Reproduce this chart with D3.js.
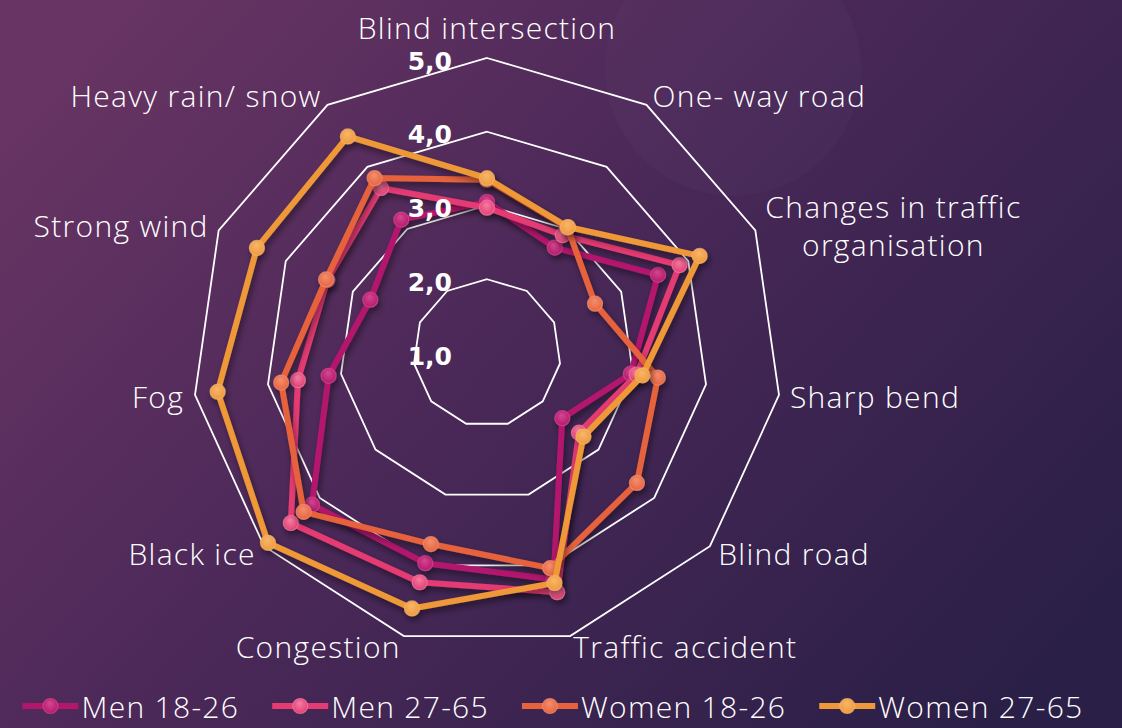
<!DOCTYPE html>
<html>
<head>
<meta charset="utf-8">
<script src="https://cdn.jsdelivr.net/npm/d3@7"></script>
<style>
  html, body { margin: 0; padding: 0; background: #2c2048; }
  svg { display: block; }
  text { font-family: "Open Sans", "Lato", sans-serif; fill: #fff; }
</style>
</head>
<body>
<svg id="chart"></svg>
<script>
// chart data
const categories = ["Blind intersection", "One- way road", "Changes in traffic\norganisation", "Sharp bend",
  "Blind road", "Traffic accident", "Congestion", "Black ice", "Fog", "Strong wind", "Heavy rain/ snow"]

const men1826   = [3.05, 2.70, 3.55, 2.97, 2.35, 4.20, 3.97, 4.14, 3.17, 2.74, 3.15]
const men2765   = [2.97, 2.90, 3.87, 3.05, 2.65, 4.38, 4.24, 4.52, 3.59, 3.38, 3.66]
const women1826 = [3.35, 3.02, 2.61, 3.34, 3.69, 4.04, 3.70, 4.29, 3.82, 3.40, 3.82]
const women2765 = [3.37, 3.03, 4.17, 3.13, 2.73, 4.25, 4.61, 4.93, 4.69, 4.43, 4.49]

const seriesNames = ["Men 18-26", "Men 27-65", "Women 18-26", "Women 27-65"]
const ringTicks = [1, 2, 3, 4, 5]

let width = 1122
let height = 728
let cx = 487
let cy = 353
let radius = 295

let colors = ["#b3176c", "#e33b72", "#e6623c", "#ef9839"]
let lightColors = ["#d6488f", "#f47ea3", "#f39070", "#f7b76d"]

let svg = d3.select('#chart')
            .attr('width', width)
            .attr('height', height)

let defs = svg.append('defs')

let bg = defs.append('linearGradient')
             .attr('id', 'bg')
             .attr('x1', 0).attr('y1', 0.2)
             .attr('x2', 1).attr('y2', 0.8)
bg.append('stop').attr('offset', 0).attr('stop-color', '#673463')
bg.append('stop').attr('offset', 0.45).attr('stop-color', '#4a2858')
bg.append('stop').attr('offset', 1).attr('stop-color', '#2a1f47')

let shadow = defs.append('filter')
                 .attr('id', 'shadow')
                 .attr('x', '-20%').attr('y', '-20%')
                 .attr('width', '140%').attr('height', '140%')
shadow.append('feDropShadow')
      .attr('dx', 2).attr('dy', 4)
      .attr('stdDeviation', 3)
      .attr('flood-color', '#000')
      .attr('flood-opacity', 0.45)

colors.forEach((c, i) => {
    let g = defs.append('radialGradient')
                .attr('id', 'mk' + i)
                .attr('cx', 0.5).attr('cy', 0.45)
                .attr('fx', 0.45).attr('fy', 0.3)
                .attr('r', 0.6)
    g.append('stop').attr('offset', 0).attr('stop-color', lightColors[i])
    g.append('stop').attr('offset', 1).attr('stop-color', c)
})

svg.append('rect')
   .attr('width', width)
   .attr('height', height)
   .attr('fill', 'url(#bg)')

// faint circle top right
svg.append('circle')
   .attr('cx', 733).attr('cy', 68).attr('r', 128)
   .attr('fill', '#ffffff')
   .attr('opacity', 0.018)

let n = categories.length
let step = 2 * Math.PI / n

let rScale = d3.scaleLinear()
               .domain([1, 5])
               .range([0, radius])

let commaFormat = d3.formatLocale({decimal: ",", thousands: ".", grouping: [3], currency: ["", ""]}).format(".1f")

let chart = svg.append('g')
               .attr('transform', 'translate(' + cx + ',' + cy + ')')

// grid rings
let ringLine = d3.lineRadial()
                 .angle((d, i) => i * step)
                 .radius(d => rScale(d))
                 .curve(d3.curveLinearClosed)

chart.selectAll('.ring')
     .data(ringTicks.filter(t => t > 1))
     .enter()
     .append('path')
     .attr('class', 'ring')
     .attr('d', t => ringLine(categories.map(() => t)))
     .attr('fill', 'none')
     .attr('stroke', '#ffffff')
     .attr('stroke-width', 1.8)

// series
let allSeries = [men1826, men2765, women1826, women2765]

let seriesLine = d3.lineRadial()
                   .angle((d, i) => i * step)
                   .radius(d => rScale(d))
                   .curve(d3.curveLinearClosed)

allSeries.forEach((vals, si) => {
    let g = chart.append('g')
                 .attr('filter', 'url(#shadow)')
    g.append('path')
     .attr('d', seriesLine(vals))
     .attr('fill', 'none')
     .attr('stroke', colors[si])
     .attr('stroke-width', 6)
     .attr('stroke-linejoin', 'round')
    g.selectAll('circle')
     .data(vals)
     .enter()
     .append('circle')
     .attr('cx', (d, i) => rScale(d) * Math.sin(i * step))
     .attr('cy', (d, i) => -rScale(d) * Math.cos(i * step))
     .attr('r', 7.5)
     .attr('fill', 'url(#mk' + si + ')')
     .attr('stroke', lightColors[si])
     .attr('stroke-opacity', 0.7)
     .attr('stroke-width', 1.2)
})

// ring value labels
chart.selectAll('.ringLabel')
     .data(ringTicks)
     .enter()
     .append('text')
     .attr('class', 'ringLabel')
     .attr('x', -35)
     .attr('y', t => -rScale(t) + 3)
     .attr('text-anchor', 'end')
     .attr('dominant-baseline', 'central')
     .style('font-family', '"DejaVu Sans", sans-serif')
     .style('font-weight', 'bold')
     .style('font-size', '25px')
     .text(t => commaFormat(t))

// category labels
let labelGap = 11
let lineH = 38
categories.forEach((cat, i) => {
    let a = i * step
    let s = Math.sin(a)
    let c = Math.cos(a)
    let vx = (radius + labelGap) * s
    let vy = -(radius + labelGap) * c
    let lines = cat.split('\n')
    let anchor = s > 0.1 ? 'start' : (s < -0.1 ? 'end' : 'middle')
    let yc = vy
    if (anchor === 'middle') yc = vy - 20
    let t = chart.append('text')
                 .attr('text-anchor', 'middle')
                 .style('font-size', '30px')
                 .style('font-weight', 300)
                 .style('letter-spacing', '1.3px')
    let top = yc - (lines.length - 1) * lineH / 2
    lines.forEach((ln, li) => {
        t.append('tspan')
         .attr('x', 0)
         .attr('y', top + li * lineH)
         .attr('dominant-baseline', 'central')
         .text(ln)
    })
    let w = t.node().getBBox().width
    let xc = anchor === 'start' ? vx + w / 2 : (anchor === 'end' ? vx - w / 2 : vx)
    t.selectAll('tspan').attr('x', xc)
})

// legend
let legend = svg.append('g')
let legY = 706
let x = 0
seriesNames.forEach((name, i) => {
    let g = legend.append('g')
    g.append('line')
     .attr('x1', 0).attr('x2', 56)
     .attr('y1', legY).attr('y2', legY)
     .attr('stroke', colors[i])
     .attr('stroke-width', 6)
    g.append('circle')
     .attr('cx', 28).attr('cy', legY).attr('r', 7.5)
     .attr('fill', 'url(#mk' + i + ')')
     .attr('stroke', lightColors[i])
     .attr('stroke-opacity', 0.7)
     .attr('stroke-width', 1.2)
    let t = g.append('text')
             .attr('x', 59)
             .attr('y', legY)
             .attr('dominant-baseline', 'central')
             .style('font-size', '30px')
             .style('font-weight', 300)
             .style('letter-spacing', '1.3px')
             .text(name)
    let w = 59 + t.node().getComputedTextLength()
    g.attr('transform', 'translate(' + x + ',0)')
    x += w + 33
})
let total = x - 33
legend.attr('transform', 'translate(' + (553 - total / 2) + ',0)')
</script>
</body>
</html>
